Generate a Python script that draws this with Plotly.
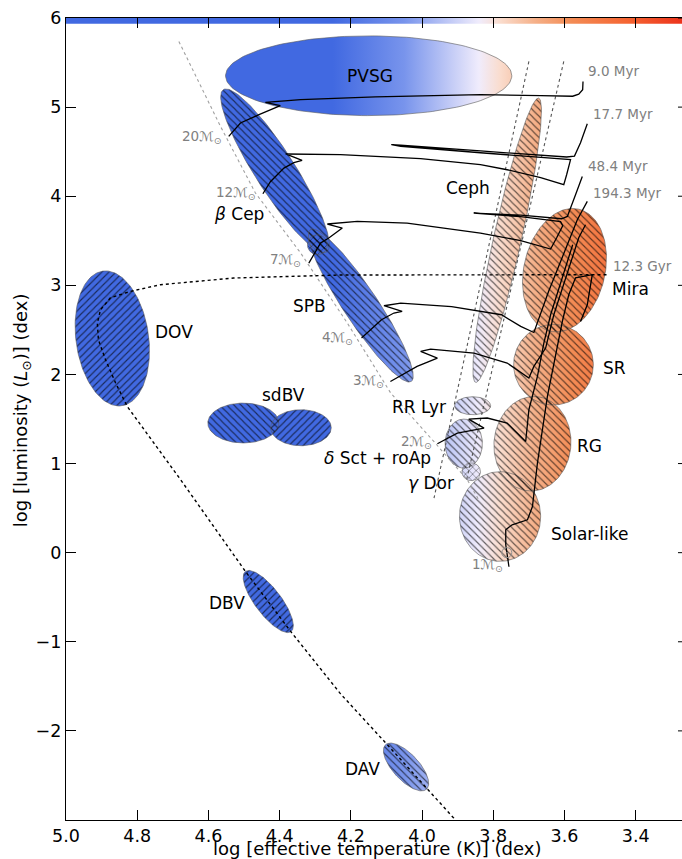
import numpy as np
import plotly.graph_objects as go

# ---------------- data ----------------
# colour map along log Teff
CMAP_T = [5.00, 4.25, 4.05, 3.84, 3.78, 3.68, 3.58, 3.42, 3.25]
CMAP_RGB = ["#4169e1", "#4169e1", "#7894ec", "#f0ecfc", "#fadccd",
            "#f5af87", "#f38c55", "#f56432", "#eb2d19"]
T_HOT, T_COOL = 5.0, 3.25

# instability regions (centre logTeff, centre logL, semi-axes in dex of logTeff on screen, angle)
ELL_NAME = ["PVSG", "bCep", "SPB", "hybrid", "DOV", "sdBV1", "sdBV2", "DBV", "DAV",
            "Ceph", "RRLyr", "dSct", "gDor", "Solar", "RG", "SR", "Mira"]
ELL_T = [4.150, 4.413, 4.172, 4.294, 4.870, 4.502, 4.340, 4.432, 4.045,
         3.761, 3.858, 3.883, 3.862, 3.781, 3.690, 3.631, 3.600]
ELL_L = [5.352, 4.286, 2.773, 3.456, 2.404, 1.455, 1.402, -0.548, -2.405,
         3.506, 1.649, 1.224, 0.908, 0.406, 1.222, 2.109, 3.170]
ELL_A = [0.402, 0.270, 0.256, 0.028, 0.191, 0.0997, 0.085, 0.106, 0.085,
         0.409, 0.0506, 0.0688, 0.026, 0.126, 0.133, 0.113, 0.176]
ELL_B = [0.112, 0.056, 0.048, 0.028, 0.102, 0.056, 0.0506, 0.0365, 0.0365,
         0.039, 0.0253, 0.0525, 0.025, 0.114, 0.108, 0.112, 0.114]
ELL_ANG = [0, 122.5, 123.6, 0, 98, 0, 0, 127.2, 132.7,
           77.5, 0, 90, 0, 90, 85, 90, 77]
ELL_HATCH = ["", "\\", "\\", "x", "/", "\\", "/", "/", "\\",
             "\\", "\\", "\\", "x", "\\", "\\", "\\", "\\"]

# evolutionary tracks (log Teff, log L)
TRACK_20_T = [4.543, 4.510, 4.458, 4.398, 4.440, 4.341, 4.131, 3.836, 3.667, 3.577, 3.560, 3.549, 3.548]
TRACK_20_L = [4.671, 4.822, 4.915, 5.016, 5.053, 5.085, 5.115, 5.140, 5.130, 5.122, 5.145, 5.195, 5.288]
TRACK_12_T = [4.447, 4.426, 4.388, 4.360, 4.337, 4.383, 4.229, 4.004, 3.836, 3.761, 3.667, 3.602,
              3.594, 3.583, 3.836, 4.060, 4.086, 4.060, 3.836, 3.594, 3.572, 3.566, 3.555, 3.536]
TRACK_12_L = [4.028, 4.163, 4.316, 4.376, 4.402, 4.474, 4.466, 4.421, 4.354, 4.297, 4.208, 4.129,
              4.241, 4.410, 4.488, 4.561, 4.578, 4.572, 4.508, 4.440, 4.450, 4.500, 4.600, 4.814]
TRACK_7_T = [4.318, 4.299, 4.285, 4.262, 4.224, 4.266, 4.182, 4.042, 3.836, 3.723, 3.639, 3.622,
             3.605, 3.611, 3.723, 3.855, 3.723, 3.608, 3.592, 3.569, 3.550]
TRACK_7_L = [3.250, 3.377, 3.475, 3.531, 3.643, 3.688, 3.717, 3.699, 3.587, 3.501, 3.407, 3.534,
             3.669, 3.714, 3.770, 3.811, 3.787, 3.747, 3.773, 4.017, 4.222]
TRACK_4_T = [4.170, 4.114, 4.079, 4.056, 4.107, 4.060, 3.917, 3.777, 3.723, 3.686, 3.645, 3.597, 3.564, 3.536]
TRACK_4_L = [2.409, 2.614, 2.689, 2.707, 2.771, 2.801, 2.760, 2.670, 2.539, 2.471, 2.928, 3.400, 3.736, 3.942]
TRACK_3_T = [4.089, 4.050, 4.014, 3.957, 4.004, 3.976, 3.854, 3.761, 3.700, 3.686, 3.653, 3.630,
             3.606, 3.583, 3.560, 3.541]
TRACK_3_L = [1.921, 2.010, 2.090, 2.184, 2.258, 2.285, 2.240, 2.128, 1.960, 2.090, 2.296, 2.670,
             2.970, 3.268, 3.534, 3.680]
TRACK_2_T = [3.957, 3.901, 3.826, 3.869, 3.817, 3.761, 3.709, 3.700, 3.676, 3.658, 3.639, 3.620, 3.592, 3.577]
TRACK_2_L = [1.222, 1.342, 1.398, 1.499, 1.511, 1.455, 1.248, 1.604, 1.978, 2.352, 2.670, 2.914, 3.287, 3.456]
TRACK_1_T = [3.756, 3.765, 3.765, 3.747, 3.704, 3.690, 3.676, 3.648, 3.622, 3.605, 3.588, 3.569,
             3.522, 3.536, 3.555]
TRACK_1_L = [-0.158, 0.089, 0.257, 0.313, 0.369, 0.518, 1.006, 1.753, 2.277, 2.614, 2.894, 3.085,
             3.119, 2.782, 2.595]

# post-AGB / white-dwarf cooling track (dotted)
WD_T = [3.482, 3.780, 4.229, 4.529, 4.735, 4.819, 4.875, 4.903, 4.912, 4.909, 4.889, 4.861, 4.828,
        4.678, 4.496, 4.369, 4.229, 4.093, 3.990, 3.911, 3.880]
WD_L = [3.119, 3.119, 3.116, 3.082, 3.007, 2.932, 2.861, 2.726, 2.577, 2.389, 2.165, 1.907, 1.641,
        0.818, -0.211, -0.884, -1.584, -2.175, -2.624, -2.979, -3.300]

# ZAMS (grey dotted) and classical instability strip edges
ZAMS_T = [4.683, 4.566, 4.468, 4.341, 4.210, 4.088, 3.967, 3.873, 3.841]
ZAMS_L = [5.737, 4.783, 4.036, 3.363, 2.577, 1.791, 1.248, 0.818, 0.594]
STRIP_BLUE_T = [3.700, 3.967]
STRIP_BLUE_L = [5.513, 0.602]
STRIP_RED_T = [3.602, 3.875]
STRIP_RED_L = [5.513, 0.818]
SUN_T, SUN_L = [3.762], [0.0]

# labels
LABEL_TEXT = ["PVSG", "<i>β</i> Cep", "Ceph", "Mira", "SPB", "DOV", "sdBV", "SR", "RR Lyr", "RG",
              "<i>δ</i> Sct + roAp", "<i>γ</i> Dor", "Solar-like", "DBV", "DAV"]
LABEL_T = [4.146, 4.515, 3.871, 3.416, 4.315, 4.697, 4.390, 3.459, 4.008, 3.530,
           4.125, 3.974, 3.527, 4.549, 4.166]
LABEL_L = [5.352, 3.804, 4.088, 2.962, 2.771, 2.471, 1.772, 2.072, 1.630, 1.192,
           1.062, 0.781, 0.209, -0.566, -2.429]
MASS_TEXT = ["20", "12", "7", "4", "3", "2", "1"]
MASS_T = [4.560, 4.463, 4.336, 4.192, 4.105, 3.968, 3.771]
MASS_L = [4.668, 4.039, 3.287, 2.412, 1.929, 1.237, -0.136]
AGE_TEXT = ["9.0 Myr", "17.7 Myr", "48.4 Myr", "194.3 Myr", "12.3 Gyr"]
AGE_T = [3.536, 3.522, 3.536, 3.522, 3.466]
AGE_L = [5.401, 4.923, 4.334, 4.036, 3.212]

X_TICKS = [5.0, 4.8, 4.6, 4.4, 4.2, 4.0, 3.8, 3.6, 3.4]
Y_TICKS = [-2, -1, 0, 1, 2, 3, 4, 5, 6]
X_RANGE = [5.0, 3.27]
Y_RANGE = [-3.0, 6.0]

# ---------------- build ----------------
FONT = "DejaVu Sans"
SCREEN_RATIO = 89.1 / 356.0   # dex(logTeff) on screen per dex(logL)
colorscale = [[(T_HOT - t) / (T_HOT - T_COOL), c] for t, c in zip(CMAP_T, CMAP_RGB)]
grad = dict(type="horizontal", colorscale=colorscale, start=T_HOT, stop=T_COOL)


def ellipse(tc, lc, a, b, ang, n=160):
    th = np.linspace(0, 2 * np.pi, n)
    p = np.radians(ang)
    xd = a * np.cos(th) * np.cos(p) - b * np.sin(th) * np.sin(p)
    yd = a * np.cos(th) * np.sin(p) + b * np.sin(th) * np.cos(p)
    return tc - xd, lc + yd / SCREEN_RATIO


fig = go.Figure()

# colour strip at the top
fig.add_trace(go.Scatter(x=[T_HOT, T_COOL, T_COOL, T_HOT, T_HOT], y=[5.935, 5.935, 6.0, 6.0, 5.935],
                         mode="lines", line=dict(width=0), fill="toself", fillgradient=grad,
                         hoverinfo="skip", showlegend=False))

shapes_xy = [ellipse(t, l, a, b, g) for t, l, a, b, g in zip(ELL_T, ELL_L, ELL_A, ELL_B, ELL_ANG)]

for (ex, ey) in shapes_xy:
    fig.add_trace(go.Scatter(x=ex, y=ey, mode="lines", line=dict(width=0), fill="toself",
                             fillgradient=grad, hoverinfo="skip", showlegend=False))

for (ex, ey), h in zip(shapes_xy, ELL_HATCH):
    kw = {}
    if h:
        kw = dict(fill="toself", fillcolor="rgba(0,0,0,0)",
                  fillpattern=dict(shape=h, fgcolor="black", fgopacity=0.6,
                                   bgcolor="rgba(0,0,0,0)", size=5, solidity=0.22))
    fig.add_trace(go.Scatter(x=ex, y=ey, mode="lines",
                             line=dict(color="rgba(90,90,90,0.75)", width=0.8),
                             hoverinfo="skip", showlegend=False, **kw))

# strip edges, ZAMS
for tx, ly in [(STRIP_BLUE_T, STRIP_BLUE_L), (STRIP_RED_T, STRIP_RED_L)]:
    fig.add_trace(go.Scatter(x=tx, y=ly, mode="lines", line=dict(color="#555555", width=1.1, dash="dot"),
                             hoverinfo="skip", showlegend=False))
fig.add_trace(go.Scatter(x=ZAMS_T, y=ZAMS_L, mode="lines", line=dict(color="#a0a0a0", width=1.1, dash="dot"),
                         hoverinfo="skip", showlegend=False))

# tracks
for tx, ly in [(TRACK_20_T, TRACK_20_L), (TRACK_12_T, TRACK_12_L), (TRACK_7_T, TRACK_7_L),
               (TRACK_4_T, TRACK_4_L), (TRACK_3_T, TRACK_3_L), (TRACK_2_T, TRACK_2_L),
               (TRACK_1_T, TRACK_1_L)]:
    fig.add_trace(go.Scatter(x=tx, y=ly, mode="lines", line=dict(color="black", width=1.3),
                             hoverinfo="skip", showlegend=False))
fig.add_trace(go.Scatter(x=WD_T, y=WD_L, mode="lines", line=dict(color="black", width=1.4, dash="dot"),
                         hoverinfo="skip", showlegend=False))
fig.add_trace(go.Scatter(x=SUN_T, y=SUN_L, mode="markers",
                         marker=dict(symbol="circle-open-dot", size=10, color="#909090", line=dict(width=1)),
                         hoverinfo="skip", showlegend=False))

annotations = []
for txt, t, l in zip(LABEL_TEXT, LABEL_T, LABEL_L):
    annotations.append(dict(x=t, y=l, xref="x", yref="y", text=txt, showarrow=False,
                            xanchor="center", yanchor="middle", borderpad=0,
                            font=dict(family=FONT, size=17, color="black")))
for txt, t, l in zip(MASS_TEXT, MASS_T, MASS_L):
    annotations.append(dict(x=t, y=l, xref="x", yref="y", text=txt + "ℳ<sub>⊙</sub>", showarrow=False,
                            xanchor="right", yanchor="middle", borderpad=0,
                            font=dict(family=FONT, size=13.5, color="#808080")))
for txt, t, l in zip(AGE_TEXT, AGE_T, AGE_L):
    annotations.append(dict(x=t, y=l, xref="x", yref="y", text=txt, showarrow=False,
                            xanchor="left", yanchor="middle", borderpad=0,
                            font=dict(family=FONT, size=13.5, color="#808080")))
annotations.append(dict(x=0.505, y=-0.036, xref="paper", yref="paper",
                        text="log [effective temperature (K)] (dex)", showarrow=False,
                        xanchor="center", yanchor="middle", borderpad=0,
                        font=dict(family=FONT, size=18, color="black")))
annotations.append(dict(x=-0.0714, y=0.511, xref="paper", yref="paper", textangle=-90,
                        text="log [luminosity (<i>L</i><sub>⊙</sub>)] (dex)", showarrow=False,
                        xanchor="center", yanchor="middle", borderpad=0,
                        font=dict(family=FONT, size=18, color="black")))

shapes = []
for yt in Y_TICKS:
    shapes.append(dict(type="line", xref="paper", yref="y", x0=0.9935, x1=1.0, y0=yt, y1=yt,
                       line=dict(color="black", width=1)))

fig.update_layout(
    width=682, height=859,
    margin=dict(l=66, r=0, t=18, b=39),
    plot_bgcolor="white", paper_bgcolor="white",
    font=dict(family=FONT, size=17.5, color="black"),
    annotations=annotations, shapes=shapes,
    xaxis=dict(range=X_RANGE, tickvals=X_TICKS, tickformat=".1f", ticks="inside", ticklen=10,
               tickwidth=1, tickcolor="black", showline=True, linecolor="black", linewidth=1.3,
               mirror="ticks", showgrid=False, zeroline=False,
               tickfont=dict(family=FONT, size=17.5, color="black")),
    yaxis=dict(range=Y_RANGE, tickvals=Y_TICKS, ticks="inside", ticklen=10,
               tickwidth=1, tickcolor="black", showline=True, linecolor="black", linewidth=1.3,
               showgrid=False, zeroline=False,
               tickfont=dict(family=FONT, size=17.5, color="black")),
)

fig.write_html("out.html", config={"displayModeBar": False},
               post_script="document.body.style.margin='0px';document.body.style.overflow='hidden';")
